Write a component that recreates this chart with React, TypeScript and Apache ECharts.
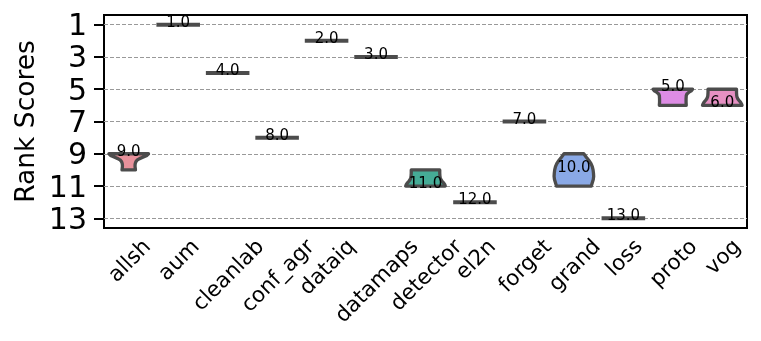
import React, { useEffect, useRef } from "react";
import * as echarts from "echarts";

const categories = ["allsh", "aum", "cleanlab", "conf_agr", "dataiq", "datamaps", "detector", "el2n", "forget", "grand", "loss", "proto", "vog"];
// rank shown above each violin
const rankLabels = [9, 1, 4, 8, 2, 3, 11, 12, 7, 10, 13, 5, 6];
const yTicks = [1, 3, 5, 7, 9, 11, 13];
const violinColors = ["#e8919b", "#d99a5c", "#b8a54f", "#9aab4f", "#5fb25b", "#50ae8e", "#45ab96", "#52aab0", "#59a7c9", "#8aa9e6", "#b497e6", "#dd8ce4", "#e690c3"];

// violin outlines: [rank, relative half-width]
const allshProfile = [[9.0, 1.0], [9.1, 0.92], [9.2, 0.74], [9.3, 0.55], [9.4, 0.42], [9.5, 0.36], [9.6, 0.33], [9.7, 0.32], [9.8, 0.32], [9.9, 0.33], [10.0, 0.34]];
const aumProfile = [[1, 1]];
const cleanlabProfile = [[4, 1]];
const confAgrProfile = [[8, 1]];
const dataiqProfile = [[2, 1]];
const datamapsProfile = [[3, 1]];
const detectorProfile = [[10.0, 0.72], [10.2, 0.72], [10.4, 0.73], [10.5, 0.75], [10.6, 0.78], [10.7, 0.84], [10.8, 0.91], [10.9, 0.97], [11.0, 1.0]];
const el2nProfile = [[12, 1]];
const forgetProfile = [[7, 1]];
const grandProfile = [[9.0, 0.5], [9.2, 0.62], [9.4, 0.75], [9.6, 0.86], [9.8, 0.93], [10.0, 0.97], [10.2, 0.99], [10.4, 1.0], [10.6, 0.98], [10.8, 0.93], [11.0, 0.88]];
const lossProfile = [[13, 1]];
const protoProfile = [[5.0, 1.0], [5.1, 0.93], [5.2, 0.8], [5.3, 0.71], [5.4, 0.68], [5.6, 0.67], [5.8, 0.67], [6.0, 0.68]];
const vogProfile = [[5.0, 0.72], [5.2, 0.72], [5.4, 0.73], [5.5, 0.75], [5.6, 0.79], [5.7, 0.85], [5.8, 0.92], [5.9, 0.97], [6.0, 1.0]];

const profiles = [allshProfile, aumProfile, cleanlabProfile, confAgrProfile, dataiqProfile, datamapsProfile, detectorProfile, el2nProfile, forgetProfile, grandProfile, lossProfile, protoProfile, vogProfile];

const FONT = '"DejaVu Sans", "Noto Sans", sans-serif';
const EDGE = "#4c4c4c";
const XFS = 21.5;

export default function App() {
  const ref = useRef<HTMLDivElement>(null);
  useEffect(() => {
    if (!ref.current) return;
    const chart = echarts.init(ref.current, null, { renderer: "svg" });
    const canvas = document.createElement("canvas");
    const ctx = canvas.getContext("2d")!;
    ctx.font = `${XFS}px "DejaVu Sans"`;
    const labelW = categories.map((c) => ctx.measureText(c).width);

    const option: any = {
      animation: false,
      grid: { left: 104, right: 14, top: 15, bottom: 113, show: true, borderColor: "#000", borderWidth: 2, outerBoundsMode: "none" },
      xAxis: {
        type: "category",
        data: categories,
        axisLine: { lineStyle: { color: "#000", width: 2 } },
        axisTick: { alignWithLabel: true, length: 10, lineStyle: { color: "#000", width: 2 } },
        axisLabel: { show: false },
        splitLine: { show: false },
      },
      yAxis: {
        type: "value",
        inverse: true,
        min: 0.4,
        max: 13.6,
        name: "Rank Scores",
        nameLocation: "middle",
        nameGap: 66,
        nameTextStyle: { fontSize: 26.5, color: "#000", fontFamily: FONT },
        axisLine: { show: true, lineStyle: { color: "#000", width: 2 } },
        axisTick: { show: true, length: 10, lineStyle: { color: "#000", width: 2 }, customValues: yTicks },
        axisLabel: { fontSize: 30, color: "#000", fontFamily: FONT, margin: 17, customValues: yTicks },
        splitLine: { show: false },
      },
      series: [
        {
          type: "line",
          data: [],
          z: 1,
          markLine: {
            silent: true,
            symbol: "none",
            label: { show: false },
            lineStyle: { color: "#999", width: 1, type: [4, 2] },
            data: yTicks.map((v) => ({ yAxis: v })),
          },
        },
        {
          type: "custom",
          z: 5,
          data: categories.map((_, i) => [i]),
          renderItem: (params: any, api: any) => {
            const i = api.value(0) as number;
            const prof = profiles[i];
            const band = api.size([1, 0])[0];
            const half = band * 0.4;
            const cx = api.coord([i, prof[0][0]])[0];
            const children: any[] = [];
            if (prof.length === 1) {
              const y = api.coord([i, prof[0][0]])[1];
              children.push({
                type: "line",
                shape: { x1: cx - half, y1: y, x2: cx + half, y2: y },
                style: { stroke: EDGE, lineWidth: 4, lineCap: "square" },
              });
            } else {
              const right = prof.map(([v, f]) => [cx + half * f, api.coord([i, v])[1]]);
              const left = prof.slice().reverse().map(([v, f]) => [cx - half * f, api.coord([i, v])[1]]);
              children.push({
                type: "polygon",
                shape: { points: [...right, ...left] },
                style: { fill: violinColors[i], stroke: EDGE, lineWidth: 3.3, lineJoin: "round" },
              });
            }
            const ly = api.coord([i, rankLabels[i]])[1];
            children.push({
              type: "text",
              x: cx,
              y: ly - 3,
              z2: 10,
              style: { text: rankLabels[i].toFixed(1), fontSize: 15, fontFamily: FONT, fill: "#000", align: "center", verticalAlign: "middle" },
            });
            return { type: "group", children };
          },
        },
        {
          type: "custom",
          z: 5,
          silent: true,
          clip: false,
          data: categories.map((_, i) => [i]),
          renderItem: (params: any, api: any) => {
            const i = api.value(0) as number;
            const cs = params.coordSys;
            const x = api.coord([i, 1])[0];
            const h = XFS * 1.1;
            const s = (labelW[i] + h) / Math.SQRT2;
            return {
              type: "text",
              x,
              y: cs.y + cs.height + 6 + s / 2,
              rotation: Math.PI / 4,
              style: { text: categories[i], fontSize: XFS, fontFamily: FONT, fill: "#000", align: "center", verticalAlign: "middle" },
            };
          },
        },
      ],
    };
    chart.setOption(option);
    return () => chart.dispose();
  }, []);
  return <div ref={ref} style={{ position: "fixed", left: 0, top: 0, width: 761, height: 341 }} />;
}
